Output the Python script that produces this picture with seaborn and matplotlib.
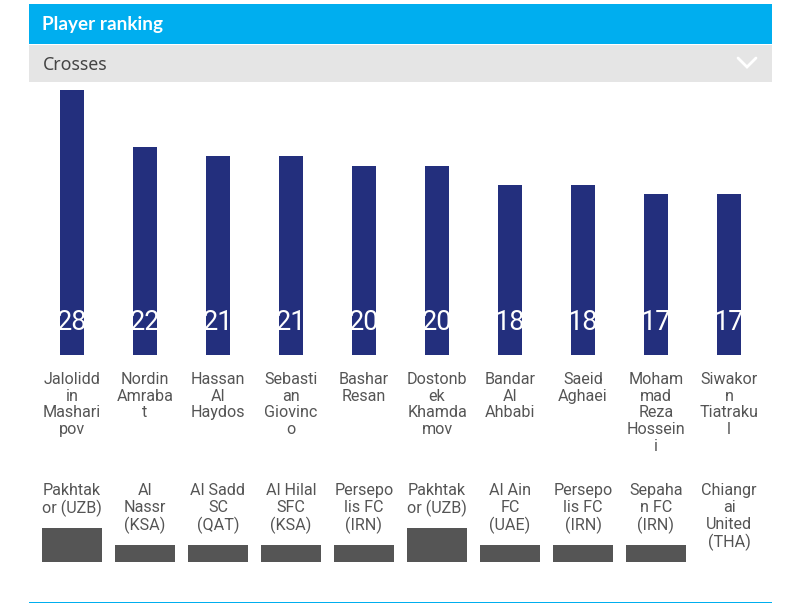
import matplotlib
matplotlib.use("Agg")
import matplotlib.pyplot as plt
from matplotlib.patches import Rectangle
import pandas as pd
import seaborn as sns

# --- data ---
players = ["Jalolidd\nin\nMashari\npov", "Nordin\nAmraba\nt", "Hassan\nAl\nHaydos",
           "Sebasti\nan\nGiovinc\no", "Bashar\nResan", "Dostonb\nek\nKhamda\nmov",
           "Bandar\nAl\nAhbabi", "Saeid\nAghaei", "Moham\nmad\nReza\nHossein\ni",
           "Siwakor\nn\nTiatraku\nl"]
crosses = [28, 22, 21, 21, 20, 20, 18, 18, 17, 17]
teams = ["Pakhtak\nor (UZB)", "Al\nNassr\n(KSA)", "Al Sadd\nSC\n(QAT)", "Al Hilal\nSFC\n(KSA)",
         "Persepo\nlis FC\n(IRN)", "Pakhtak\nor (UZB)", "Al Ain\nFC\n(UAE)", "Persepo\nlis FC\n(IRN)",
         "Sepaha\nn FC\n(IRN)", "Chiangr\nai\nUnited\n(THA)"]
team_counts = [2, 1, 1, 1, 1, 2, 1, 1, 1, 0]

W, H = 799, 603
BLUE = "#00AEEF"
NAVY = "#232F7D"
GREY_TXT = "#555555"

sns.set_theme(style="white")
plt.rcParams["font.family"] = ["Roboto", "DejaVu Sans"]

df = pd.DataFrame({"player": players, "crosses": crosses, "team_count": team_counts})

fig = plt.figure(figsize=(W / 100, H / 100), dpi=100)


def px_axes(left, top, right, bottom):
    return fig.add_axes([left / W, 1 - bottom / H, (right - left) / W, (bottom - top) / H])


# background layer in pixel coords: header bands, chevron, footer line
bg = px_axes(0, 0, W, H)
bg.set_xlim(0, W)
bg.set_ylim(H, 0)
bg.axis("off")
bg.add_patch(Rectangle((29, 4), 743, 40, color=BLUE, lw=0))
bg.add_patch(Rectangle((29, 45), 743, 37, color="#E5E5E5", lw=0))
bg.add_patch(Rectangle((29, 601.5), 743, 1.5, color=BLUE, lw=0))
bg.plot([738, 747, 756], [58, 67, 58], color="white", lw=2, solid_joinstyle="miter")
bg.text(42.5, 24.5, "Player ranking", color="white", fontsize=13.6, fontweight="bold",
        family=["Lato", "DejaVu Sans"], va="center", ha="left")
bg.text(42.5, 65, "Crosses", color="#444444", fontsize=12.8,
        family=["Noto Sans", "DejaVu Sans"], va="center", ha="left")

# main bars
ax = px_axes(35.5, 90, 765.5, 355)
sns.barplot(data=df, x="player", y="crosses", color=NAVY, width=0.329, saturation=1,
            ax=ax, edgecolor="none")
ax.set_xlim(-0.5, 9.5)
ax.set_ylim(0, 28)
ax.set_xlabel("")
ax.set_ylabel("")
ax.set_yticks([])
ax.patch.set_alpha(0)
sns.despine(ax=ax, left=True, bottom=True)
ax.tick_params(axis="x", length=0, pad=12, labelsize=11.6, colors=GREY_TXT)
for lab in ax.get_xticklabels():
    lab.set_linespacing(1.155)
for i, v in enumerate(crosses):
    ax.text(i, 3.45, str(v), color="white", fontsize=19.5, ha="center", va="center", clip_on=False)

# team bars
ax2 = px_axes(35.5, 528, 765.5, 562)
sns.barplot(data=df, x="player", y="team_count", color="#555555", width=0.822, saturation=1,
            ax=ax2, edgecolor="none")
ax2.set_xlim(-0.5, 9.5)
ax2.set_ylim(0, 2)
ax2.set_xlabel("")
ax2.set_ylabel("")
ax2.set_xticks([])
ax2.set_yticks([])
ax2.patch.set_alpha(0)
sns.despine(ax=ax2, left=True, bottom=True)

for i, t in enumerate(teams):
    bg.text(72 + 73 * i, 483, t, color=GREY_TXT, fontsize=11.6, ha="center", va="top", linespacing=1.155)

fig.savefig("out.png", dpi=100)
